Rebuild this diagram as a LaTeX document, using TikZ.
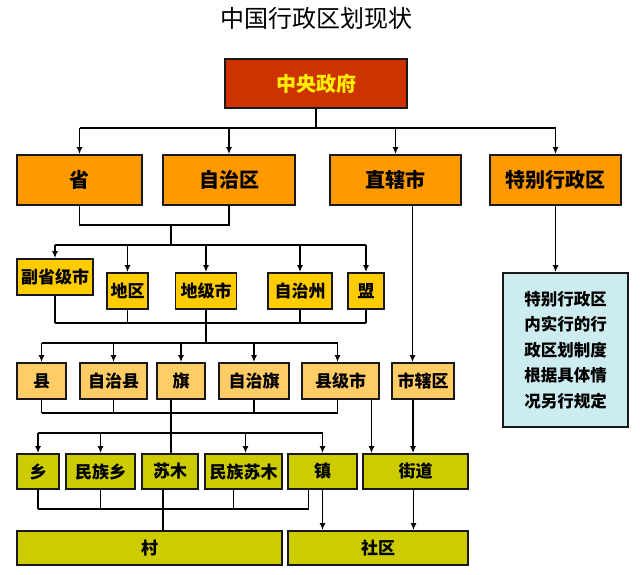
\documentclass[tikz,border=0pt]{standalone}
\usepackage{fontspec}
\newfontfamily\cjk{Noto Sans CJK SC}
\usetikzlibrary{arrows.meta}

\definecolor{govred}{HTML}{CC3300}
\definecolor{govtext}{HTML}{FFEE00}
\definecolor{provorange}{HTML}{FF9900}
\definecolor{cityyellow}{HTML}{FFCC00}
\definecolor{countypeach}{HTML}{FFCC66}
\definecolor{townolive}{HTML}{CCCC00}
\definecolor{noteblue}{HTML}{CCECEF}

\tikzset{
  unitbox/.style={draw=black!90, line width=1.8pt, inner sep=0pt,
    font=\cjk\bfseries\fontsize{17}{17}\selectfont},
  govbox/.style={unitbox, fill=govred, text=govtext,
    font=\cjk\bfseries\fontsize{20}{20}\selectfont},
  provbox/.style={unitbox, fill=provorange, minimum height=50pt,
    font=\cjk\bfseries\fontsize{20}{20}\selectfont},
  citybox/.style={unitbox, fill=cityyellow, minimum height=36pt},
  countybox/.style={unitbox, fill=countypeach, minimum height=36pt},
  townbox/.style={unitbox, fill=townolive, minimum height=35pt},
  notebox/.style={unitbox, fill=noteblue, align=center,
    font=\cjk\bfseries\fontsize{16.5}{25.5}\selectfont},
  link/.style={line width=1.8pt}
}

\begin{document}
\begin{tikzpicture}[x=1pt,y=-1pt,>={Latex[length=7pt,width=6pt]}]
  \useasboundingbox (0,0) rectangle (640,574);

  \node[font=\cjk\fontsize{24}{24}\selectfont] (title) at (316,18) {中国行政区划现状};

  % top
  \node[govbox, minimum width=182pt, minimum height=49pt] (zy) at (316,83.5) {中央政府};

  % provinces
  \node[provbox, minimum width=125pt] (sheng) at (79.5,180) {省};
  \node[provbox, minimum width=132pt] (zzq) at (229,180) {自治区};
  \node[provbox, minimum width=131pt] (zxs) at (395.5,180) {直辖市};
  \node[provbox, minimum width=131pt] (tbx) at (555.5,180) {特别行政区};

  % prefectures
  \node[citybox, minimum width=76pt] (fsj) at (55,277) {副省级市};
  \node[citybox, minimum width=41pt] (dq) at (127.5,291) {地区};
  \node[citybox, minimum width=61pt] (djs) at (206,291) {地级市};
  \node[citybox, minimum width=64pt] (zzz) at (300,291) {自治州};
  \node[citybox, minimum width=36pt] (meng) at (366,291) {盟};

  \node[notebox, minimum width=125pt, minimum height=154pt] (note) at (565.5,350)
    {特别行政区\\内实行的行\\政区划制度\\根据具体情\\况另行规定};

  % counties
  \node[countybox, minimum width=49pt] (xian) at (41.5,381) {县};
  \node[countybox, minimum width=67pt] (zzx) at (113.5,381) {自治县};
  \node[countybox, minimum width=48pt] (qi) at (181,381) {旗};
  \node[countybox, minimum width=70pt] (zzqi) at (254,381) {自治旗};
  \node[countybox, minimum width=77pt] (xjs) at (340.5,381) {县级市};
  \node[countybox, minimum width=62pt] (sxq) at (423,381) {市辖区};

  % townships
  \node[townbox, minimum width=42pt] (xiang) at (38,471.5) {乡};
  \node[townbox, minimum width=69pt] (mzx) at (100.5,471.5) {民族乡};
  \node[townbox, minimum width=56pt] (sm) at (170,471.5) {苏木};
  \node[townbox, minimum width=77pt] (mzsm) at (243.5,471.5) {民族苏木};
  \node[townbox, minimum width=69pt] (zhen) at (322.5,471.5) {镇};
  \node[townbox, minimum width=105pt] (jd) at (415.5,471.5) {街道};

  % villages
  \node[townbox, minimum width=265pt, minimum height=34pt] (cun) at (149.5,548) {村};
  \node[townbox, minimum width=180pt, minimum height=34pt] (sq) at (378,548) {社区};

  % bus lines
  \coordinate (busA) at (0,128);
  \coordinate (joinA) at (171,225);
  \coordinate (busB) at (171,245);
  \coordinate (joinB) at (0,323);
  \coordinate (busC) at (0,343);
  \coordinate (joinC) at (0,413);
  \coordinate (busD) at (0,433);
  \coordinate (joinE) at (0,509);

  \draw[link] (zy.south) -- (zy.south |- busA);
  \draw[link] (sheng.north |- busA) -- (tbx.north |- busA);
  \foreach \n in {sheng,zzq,zxs,tbx}
    \draw[link,->] (\n.north |- busA) -- (\n.north);

  \draw[link] (sheng.south) |- (joinA) -| (zzq.south);
  \draw[link] (joinA) -- (busB);
  \draw[link] (fsj.north |- busB) -- (meng.north |- busB);
  \foreach \n in {fsj,dq,djs,zzz,meng}
    \draw[link,->] (\n.north |- busB) -- (\n.north);

  \draw[link,->] (tbx.south) -- (tbx.south |- note.north);

  \foreach \n in {fsj,dq,zzz,meng}
    \draw[link] (\n.south) -- (\n.south |- joinB);
  \draw[link] (fsj.south |- joinB) -- (meng.south |- joinB);
  \draw[link] (djs.south) -- (djs.south |- busC);
  \draw[link] (xian.north |- busC) -- ([xshift=-3pt]xjs.north |- busC);
  \foreach \n in {xian,zzx,qi,zzqi}
    \draw[link,->] (\n.north |- busC) -- (\n.north);
  \draw[link,->] ([xshift=-3pt]xjs.north |- busC) -- ([xshift=-3pt]xjs.north);
  \draw[link,->] ([xshift=17pt]zxs.south) -- ([xshift=17pt]zxs.south |- sxq.north);

  \foreach \n in {xian,zzx,zzqi}
    \draw[link] (\n.south) -- (\n.south |- joinC);
  \draw[link] ([xshift=-3pt]xjs.south) -- ([xshift=-3pt]xjs.south |- joinC);
  \draw[link] (xian.south |- joinC) -- ([xshift=-3pt]xjs.south |- joinC);
  \draw[link] ([xshift=-10pt]qi.south) -- ([xshift=-10pt]qi.south |- sm.north);
  \draw[link,->] ([xshift=31pt]xjs.south) -- ([xshift=31pt]xjs.south |- jd.north);
  \draw[link,->] ([xshift=-10pt]sxq.south) -- ([xshift=-10pt]sxq.south |- jd.north);

  \draw[link] (xiang.north |- busD) -- (zhen.north |- busD);
  \foreach \n in {xiang,mzx,zhen}
    \draw[link,->] (\n.north |- busD) -- (\n.north);
  \draw[link,->] ([xshift=2pt]mzsm.north |- busD) -- ([xshift=2pt]mzsm.north);

  \foreach \n in {xiang,mzx}
    \draw[link] (\n.south) -- (\n.south |- joinE);
  \draw[link] ([xshift=-10pt]mzsm.south) -- ([xshift=-10pt]mzsm.south |- joinE);
  \draw[link] ([xshift=-14pt]zhen.south) -- ([xshift=-14pt]zhen.south |- joinE);
  \draw[link] (xiang.south |- joinE) -- ([xshift=-14pt]zhen.south |- joinE);
  \draw[link] ([xshift=-7pt]sm.south) -- ([xshift=-7pt]sm.south |- cun.north);
  \draw[link,->] (zhen.south) -- (zhen.south |- sq.north);
  \draw[link,->] ([xshift=-2pt]jd.south) -- ([xshift=-2pt]jd.south |- sq.north);
\end{tikzpicture}
\end{document}
